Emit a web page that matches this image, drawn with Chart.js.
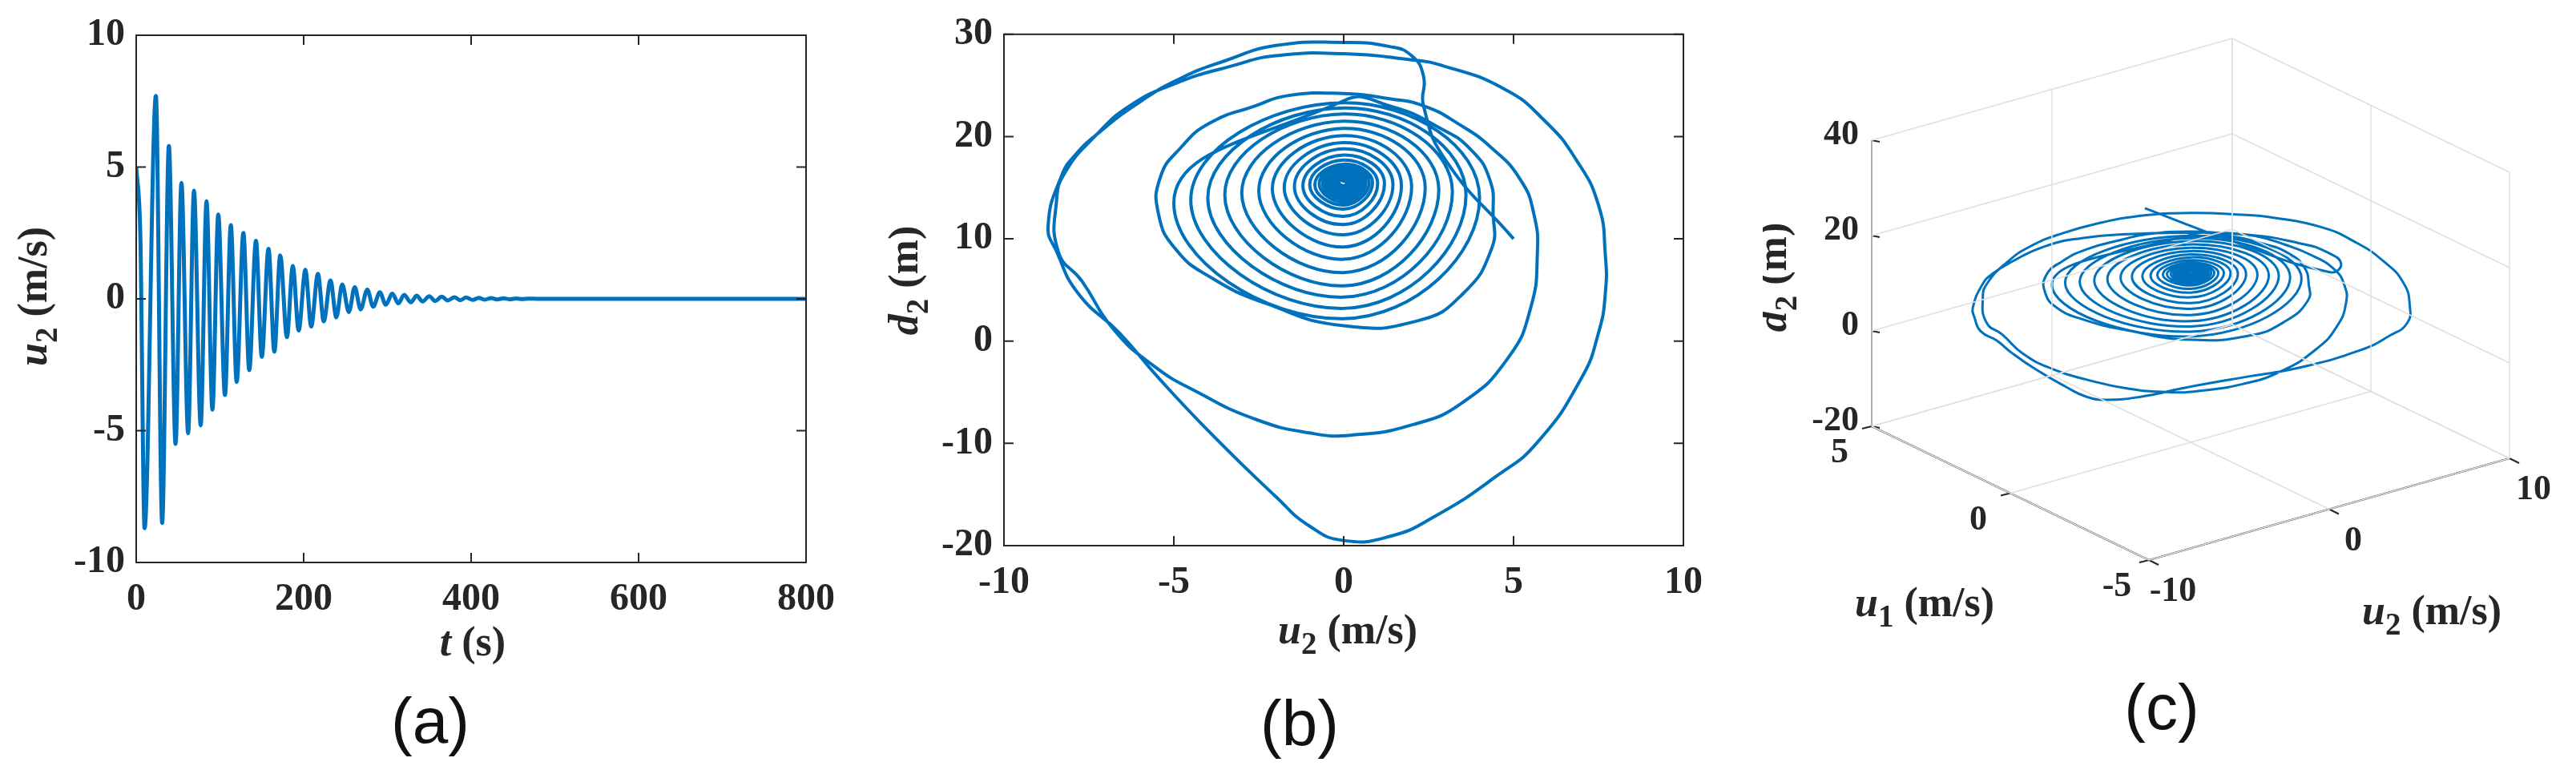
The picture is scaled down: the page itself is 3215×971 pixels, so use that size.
<!DOCTYPE html>
<html><head><meta charset="utf-8">
<script src="https://cdn.jsdelivr.net/npm/chart.js@4/dist/chart.umd.min.js"></script>
<style>
html,body{margin:0;padding:0;background:#fff;width:3215px;height:971px;overflow:hidden}
canvas{position:absolute;top:0}
</style></head><body>
<canvas id="ca" width="1100" height="971" style="left:0"></canvas>
<canvas id="cb" width="1100" height="971" style="left:1100px"></canvas>
<canvas id="cc" width="1015" height="971" style="left:2200px"></canvas>
<script>
// ---- Data ----
const tTime = [0,5,10,23.5,31,39,47,54,62,69,77,84,91,98,106,113,120,128,135,143,150,158,165,172,180,187,194,202,209,217,224,232,239,246,254,261,268,276,283,291,298,306,313,320,328,335,342,350,357,365,372,380,387,394,402,409,416,424,431,439,446,454,461,468,480,800];
const u2Time = [5,2.3,-8.7,7.7,-8.5,5.8,-5.5,4.4,-5.1,4.1,-4.8,3.7,-4.2,3.2,-3.65,2.8,-3.15,2.5,-2.7,2.2,-2.2,1.9,-2.0,1.65,-1.45,1.25,-1.2,1.1,-1.05,0.95,-0.85,0.7,-0.7,0.55,-0.5,0.45,-0.4,0.35,-0.3,0.25,-0.22,0.2,-0.17,0.15,-0.13,0.12,-0.1,0.1,-0.08,0.08,-0.06,0.06,-0.05,0.05,-0.04,0.04,-0.03,0.03,-0.02,0.02,-0.015,0.015,-0.01,0.01,0,0];

const u2Path = [5,3.0,2.35,2.35,2.0,1.35,0,-2.0,-3.5,-4.8,-5.95,-7.2,-7.9,-8.3,-8.7,-8.45,-7.8,-6.6,-5.45,-3.8,-2.0,-1.0,0,1.35,2.7,4.5,5.7,7.0,7.5,7.7,7.7,7.5,6.85,5.9,4.7,2.85,2.0,0,-2.0,-3.3,-4.95,-6.3,-7.3,-8.2,-8.45,-8.4,-7.7,-6.8,-5.6,-4.3,-2.55,-0.97,0.2,2.0,3.5,4.85,5.5,5.7,5.6,5.2,4.35,3.35,2.35,1.35,0,-1.65,-2.6,-3.95,-4.8,-5.4,-5.45,-4.95,-3.95,-2.3,0,2.2,3.5,4.35,4.4,4.3,3.75,2.85,1.35,0,
 -5.0,0,4.0,0, -4.5,0,3.6,0, -4.0,0,3.2,0, -3.5,0,2.8,0, -3.0,0,2.4,0, -2.5,0,2.0,0, -2.1,0,1.7,0, -1.75,0,1.45,0, -1.45,0,1.2,0, -1.2,0,1.0,0, -1.0,0,0.85,0, -0.85,0,0.75,0, -0.72,0,0.65,0, -0.62,0,0.56,0, -0.53,0,0.48,0, -0.45,0,0.4,0, -0.38,0,0.33,0, -0.3,0,0.26,0, -0.22,0,0.18,0, -0.14,0,0.1,0, 0];
const d2Path = [10,17.7,23,25.9,27.9,28.8,29.2,28.9,27.4,25.7,23.5,20.4,18.2,16.2,11.3,8.75,4.6,0.8,-3.6,-9.4,-15.2,-18.1,-19.5,-19.1,-17.1,-13.2,-9.9,-3.6,0.8,4.6,8.5,13.3,17.7,21.6,24.7,27.0,27.5,28.1,27.9,26.9,25.2,23.0,20.1,16.5,13.8,8.75,5.85,1.26,-2.4,-5.0,-7.7,-9.0,-9.2,-8.2,-6.0,-1.6,3.2,8.5,12.4,15.8,18.9,21.3,23.0,23.7,24.2,24.0,23.0,21.3,18.9,16.0,12.4,9.0,6.3,3.7,1.5,2.0,4.6,9.0,12.4,15.8,18.7,20.8,23.0,23.5,
 13.5,2.2,14.0,23.3, 13.8,3.2,14.3,22.8, 14.0,4.3,14.6,22.2, 14.3,5.4,14.8,21.5, 14.5,6.7,15.0,20.8, 14.7,8.0,15.1,20.1, 14.9,9.2,15.2,19.4, 15.0,10.4,15.3,18.8, 15.1,11.4,15.4,18.2, 15.2,12.2,15.4,17.7, 15.3,12.9,15.5,17.3, 15.3,13.3,15.5,17.1, 15.4,13.6,15.5,16.9, 15.4,13.9,15.5,16.7, 15.4,14.2,15.5,16.5, 15.5,14.4,15.5,16.3, 15.5,14.6,15.5,16.1, 15.5,14.8,15.5,16.0, 15.5,15.0,15.5,15.8, 15.5,15.2,15.5,15.6, 15.5];
const u1Path = [4.9,0.5,-3.5,-3.9,-3.6,-3.0,-2.0,-1.0,0,0.8,1.4,1.8,2.0,2.1,2.2,2.3,2.5,2.7,2.9,3.1,3.2,3.1,3.0,2.6,2.0,0.8,-0.2,-1.6,-2.3,-2.8,-2.9,-2.8,-2.5,-2.1,-1.6,-1.0,-0.7,0,0.6,1.0,1.4,1.7,1.9,2.0,2.0,1.9,1.8,1.6,1.3,1.0,0.6,0.2,-0.1,-0.6,-1.0,-1.4,-1.7,-1.9,-1.9,-1.8,-1.5,-1.2,-0.8,-0.5,0,0.5,0.8,1.2,1.5,1.7,1.7,1.6,1.3,0.8,0,-0.7,-1.1,-1.4,-1.4,-1.3,-1.1,-0.8,-0.4,0,
 1.75,0,-1.4,0, 1.6,0,-1.25,0, 1.4,0,-1.1,0, 1.2,0,-1.0,0, 1.05,0,-0.85,0, 0.9,0,-0.7,0, 0.75,0,-0.6,0, 0.6,0,-0.5,0, 0.5,0,-0.42,0, 0.42,0,-0.35,0, 0.35,0,-0.3,0, 0.3,0,-0.26,0, 0.25,0,-0.23,0, 0.22,0,-0.2,0, 0.19,0,-0.17,0, 0.16,0,-0.14,0, 0.13,0,-0.12,0, 0.1,0,-0.09,0, 0.08,0,-0.06,0, 0.05,0,-0.04,0, 0];

const ticksA_x = [0,200,400,600,800], ticksA_y = [-10,-5,0,5,10];
const ticksB_x = [-10,-5,0,5,10], ticksB_y = [-20,-10,0,10,20,30];
const ticksC_u1 = [5,0,-5], ticksC_u2 = [-10,0,10], ticksC_z = [-20,0,20,40];

// ---- Styles ----
const BLUE = '#0072BD', INK = '#262626';
const LBL = 52;

function richText(ctx, parts, x, y, rot, size){
  ctx.save(); ctx.translate(x,y); if(rot) ctx.rotate(rot);
  ctx.fillStyle = INK; ctx.textBaseline = 'middle';
  let w = 0;
  const f = p => (p.i?'italic ':'')+'bold '+(p.s?size*0.75:size)+'px "Liberation Serif"';
  parts.forEach(p=>{ctx.font=f(p); w+=ctx.measureText(p.t).width;});
  let cx = -w/2;
  parts.forEach(p=>{ctx.font=f(p); ctx.textAlign='left'; ctx.fillText(p.t,cx,p.s?size*0.3:0); cx+=ctx.measureText(p.t).width;});
  ctx.restore();
}
function panelLabel(ctx, txt, x, y){
  ctx.save(); ctx.fillStyle='#111'; ctx.font='80px "Liberation Sans"'; ctx.textAlign='center'; ctx.textBaseline='middle';
  ctx.fillText(txt,x,y); ctx.restore();
}
function boxPlugin(xt, yt, labels){
  return {id:'box', afterDraw(chart){
    const {ctx, chartArea:a, scales} = chart;
    ctx.save(); ctx.strokeStyle=INK; ctx.lineWidth=2;
    ctx.strokeRect(a.left,a.top,a.right-a.left,a.bottom-a.top);
    const L=12;
    xt.forEach(v=>{const px=scales.x.getPixelForValue(v);
      ctx.beginPath(); ctx.moveTo(px,a.bottom); ctx.lineTo(px,a.bottom-L); ctx.moveTo(px,a.top); ctx.lineTo(px,a.top+L); ctx.stroke();});
    yt.forEach(v=>{const py=scales.y.getPixelForValue(v);
      ctx.beginPath(); ctx.moveTo(a.left,py); ctx.lineTo(a.left+L,py); ctx.moveTo(a.right,py); ctx.lineTo(a.right-L,py); ctx.stroke();});
    ctx.restore();
    labels(ctx);
  }};
}
function axisOpts(min,max,step,isY,fitSize){
  return {type:'linear',min,max,ticks:{stepSize:step,color:INK,font:{family:'Liberation Serif',weight:'bold',size:48},padding:isY?14:18,maxRotation:0},
    grid:{display:false,drawTicks:false},border:{display:false},
    afterFit(s){ if(isY) s.width=fitSize; else s.height=fitSize; }};
}

// ---- (a) ----
new Chart(document.getElementById('ca'),{type:'scatter',
  data:{datasets:[{data:tTime.map((t,i)=>({x:t,y:u2Time[i]})),showLine:true,borderColor:BLUE,borderWidth:5,pointRadius:0,cubicInterpolationMode:'monotone'}]},
  options:{responsive:false,devicePixelRatio:1,animation:false,plugins:{legend:{display:false},tooltip:{enabled:false}},
    layout:{padding:{top:44,right:94,left:0,bottom:0}},
    scales:{x:axisOpts(0,800,200,false,269),y:axisOpts(-10,10,5,true,170)}},
  plugins:[boxPlugin(ticksA_x,ticksA_y,ctx=>{
    richText(ctx,[{t:'u',i:1},{t:'2',s:1},{t:' (m/s)'}],45,370,-Math.PI/2,LBL);
    richText(ctx,[{t:'t',i:1},{t:' (s)'}],590,805,0,LBL);
    panelLabel(ctx,'(a)',537,905);
  })]});

// ---- (b) ----
new Chart(document.getElementById('cb'),{type:'scatter',
  data:{datasets:[{data:u2Path.map((u,i)=>({x:u,y:d2Path[i]})),showLine:true,borderColor:BLUE,borderWidth:4,pointRadius:0,tension:0.5}]},
  options:{responsive:false,devicePixelRatio:1,animation:false,plugins:{legend:{display:false},tooltip:{enabled:false}},
    layout:{padding:{top:40,right:99,left:0,bottom:0}},
    scales:{x:axisOpts(-10,10,5,false,290),y:axisOpts(-20,30,10,true,153)}},
  plugins:[boxPlugin(ticksB_x,ticksB_y,ctx=>{
    richText(ctx,[{t:'d',i:1},{t:'2',s:1},{t:' (m)'}],32,350,-Math.PI/2,LBL);
    richText(ctx,[{t:'u',i:1},{t:'2',s:1},{t:' (m/s)'}],582,790,0,LBL);
    panelLabel(ctx,'(b)',522,908);
  })]});

// ---- (c) 3D ----
const OX=2200;
const P=(u1,u2,z)=>({x:2734-34.6*u1+22.5*u2-OX, y:433-16.7*u1-6.35*u2-5.95*z});
const seg=(a,b,color,w)=>({data:[a,b],showLine:true,borderColor:color,borderWidth:w,pointRadius:0,tension:0});
const GRID='#e0e0e0', ds=[];
ticksC_z.forEach(z=>{ds.push(seg(P(5,-10,z),P(5,10,z),GRID,1.5)); ds.push(seg(P(5,10,z),P(-5,10,z),GRID,1.5));});
ticksC_u2.forEach(u=>{ds.push(seg(P(5,u,-20),P(5,u,40),GRID,1.5)); ds.push(seg(P(5,u,-20),P(-5,u,-20),GRID,1.5));});
ticksC_u1.forEach(u=>{ds.push(seg(P(u,10,-20),P(u,10,40),GRID,1.5)); ds.push(seg(P(u,-10,-20),P(u,10,-20),GRID,1.5));});
ds.push(seg(P(5,-10,-20),P(5,-10,40),INK,2));
ds.push(seg(P(5,-10,-20),P(-5,-10,-20),INK,2));
ds.push(seg(P(-5,-10,-20),P(-5,10,-20),INK,2));
ticksC_z.forEach(z=>{const a=P(5,-10,z); ds.push(seg(a,{x:a.x+10,y:a.y+2},INK,2));});
ticksC_u1.forEach(u=>{const a=P(u,-10,-20); ds.push(seg(a,{x:a.x-12,y:a.y+3},INK,2));});
ticksC_u2.forEach(u=>{const a=P(-5,u,-20); ds.push(seg(a,{x:a.x+12,y:a.y+6},INK,2));});
ds.push({data:u1Path.map((u1,i)=>P(u1,u2Path[i],d2Path[i])),showLine:true,borderColor:BLUE,borderWidth:3,pointRadius:0,tension:0.5});

new Chart(document.getElementById('cc'),{type:'scatter',data:{datasets:ds},
  options:{responsive:false,devicePixelRatio:1,animation:false,plugins:{legend:{display:false},tooltip:{enabled:false}},
    layout:{padding:0},
    scales:{x:{type:'linear',min:0,max:1015,display:false},y:{type:'linear',min:0,max:971,reverse:true,display:false}}},
  plugins:[{id:'lbl',afterDraw(chart){
    const ctx=chart.ctx; ctx.save(); ctx.fillStyle=INK; ctx.font='bold 44px "Liberation Serif"'; ctx.textBaseline='middle';
    ctx.textAlign='right';
    ticksC_z.forEach(z=>{const a=P(5,-10,z); ctx.fillText(String(z),a.x-16,a.y-6);});
    ctx.textAlign='center';
    ticksC_u1.forEach(u=>{const a=P(u,-10,-20); ctx.fillText(String(u),a.x-40,a.y+34);});
    ticksC_u2.forEach(u=>{const a=P(-5,u,-20); ctx.fillText(String(u),a.x+30,a.y+40);});
    ctx.restore();
    richText(ctx,[{t:'d',i:1},{t:'2',s:1},{t:' (m)'}],16,346,-Math.PI/2,LBL);
    richText(ctx,[{t:'u',i:1},{t:'1',s:1},{t:' (m/s)'}],202,756,0,LBL);
    richText(ctx,[{t:'u',i:1},{t:'2',s:1},{t:' (m/s)'}],835,766,0,LBL);
    panelLabel(ctx,'(c)',498,888);
  }}]});
</script></body></html>
